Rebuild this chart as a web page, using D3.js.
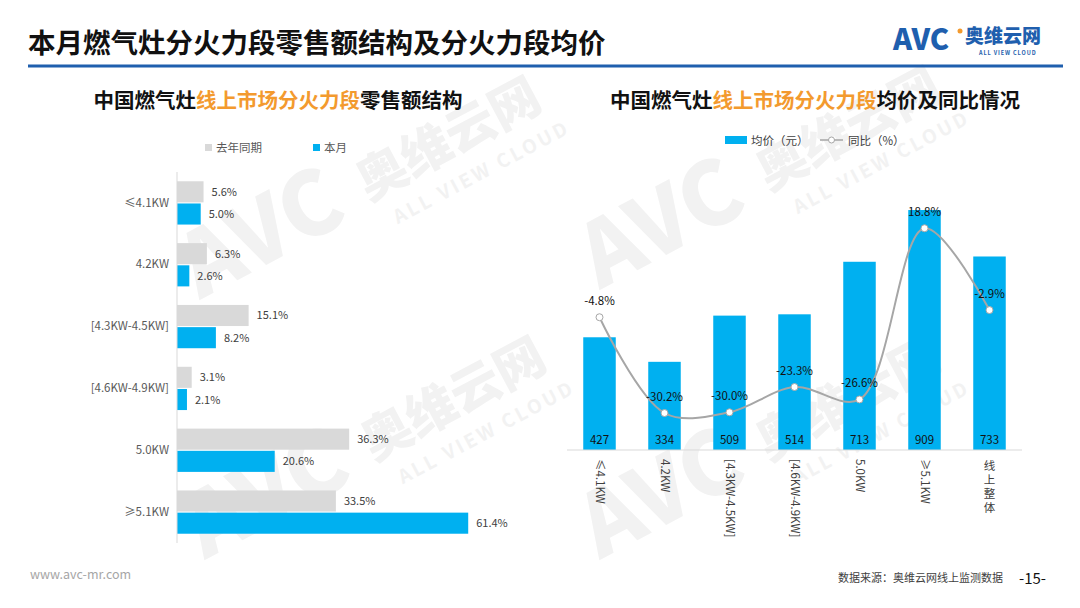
<!DOCTYPE html>
<html>
<head>
<meta charset="utf-8">
<script src="https://cdn.jsdelivr.net/npm/d3@7"></script>
<style>
  body { margin: 0; background: #fff; }
  svg text { font-family: "Noto Sans CJK SC", "Noto Sans", sans-serif; }
</style>
</head>
<body>
<div id="chart"></div>
<script>
// left chart: share of retail sales by burner power
var segs = ["≤4.1KW", "4.2KW", "[4.3KW-4.5KW]", "[4.6KW-4.9KW]", "5.0KW", "≥5.1KW"];
var lastYear = [5.6, 6.3, 15.1, 3.1, 36.3, 33.5];
var thisMonth = [5.0, 2.6, 8.2, 2.1, 20.6, 61.4];
var seriesNames = ["去年同期", "本月"];

// right chart: average price and yoy
var priceCats = ["≤4.1KW", "4.2KW", "[4.3KW-4.5KW]", "[4.6KW-4.9KW]", "5.0KW", "≥5.1KW", "线上整体"];
var avgPrice = [427, 334, 509, 514, 713, 909, 733];
var yoy = [-4.8, -30.2, -30.0, -23.3, -26.6, 18.8, -2.9];

var blue = "#00b0f0", grey = "#d9d9d9", orange = "#f39a2e";

var svg = d3.select("#chart").append("svg")
	.attr("width", 1080).attr("height", 608);

// faint watermarks
function watermark(x, y) {
	var g = svg.append("g").attr("transform", "translate(" + x + "," + y + ") rotate(-28)").attr("fill", "#f2f2f2");
	g.append("text").attr("x", 0).attr("y", 0).attr("font-size", 88).attr("font-weight", 900).attr("font-family", "Liberation Sans").text("AVC");
	g.append("text").attr("x", 195).attr("y", -8).attr("font-size", 50).attr("font-weight", 900).text("奥维云网");
	g.append("text").attr("x", 210).attr("y", 26).attr("font-size", 19).attr("font-weight", 700).attr("letter-spacing", 3).text("ALL VIEW CLOUD");
}
watermark(200, 300);
watermark(205, 560);
watermark(600, 290);
watermark(600, 560);

// header
svg.append("text").attr("x", 28).attr("y", 53)
	.attr("font-size", 27.5).attr("font-weight", 700).attr("fill", "#111")
	.text("本月燃气灶分火力段零售额结构及分火力段均价");
svg.append("rect").attr("x", 28).attr("y", 64.5).attr("width", 1035).attr("height", 3).attr("fill", "#1f5fae");

svg.append("text").attr("x", 893).attr("y", 50)
	.attr("font-size", 29).attr("font-weight", 900)
	.attr("fill", "#1f5fae").attr("font-family", "Liberation Sans").text("AVC");
svg.append("circle").attr("cx", 960).attr("cy", 31).attr("r", 2.5).attr("fill", orange);
svg.append("text").attr("x", 965).attr("y", 43)
	.attr("font-size", 19).attr("font-weight", 900).attr("fill", "#1f5fae").text("奥维云网");
svg.append("text").attr("x", 979).attr("y", 55)
	.attr("font-size", 5.5).attr("font-weight", 700).attr("letter-spacing", 0.9).attr("fill", "#1f5fae").text("ALL VIEW CLOUD");

// chart titles with orange middle part
function chartTitle(cx, parts) {
	var t = svg.append("text").attr("x", cx).attr("y", 108).attr("text-anchor", "middle")
		.attr("font-size", 20.5).attr("font-weight", 700);
	parts.forEach(function(p) { t.append("tspan").attr("fill", p[1]).text(p[0]); });
}
chartTitle(278, [["中国燃气灶", "#111"], ["线上市场分火力段", orange], ["零售额结构", "#111"]]);
chartTitle(815, [["中国燃气灶", "#111"], ["线上市场分火力段", orange], ["均价及同比情况", "#111"]]);

// ---------- left: horizontal grouped bars ----------
var y0 = d3.scaleBand().domain(segs).range([172, 543]).paddingInner(0.3).paddingOuter(0.15);
var y1 = d3.scaleBand().domain(seriesNames).range([0, y0.bandwidth()]).paddingInner(0.05);
var xL = d3.scaleLinear().domain([0, 70]).range([177, 509]);

var leftLegend = svg.append("g");
[[seriesNames[0], grey, 205], [seriesNames[1], blue, 313]].forEach(function(l) {
	leftLegend.append("rect").attr("x", l[2]).attr("y", 144).attr("width", 7).attr("height", 7).attr("fill", l[1]);
	leftLegend.append("text").attr("x", l[2] + 11).attr("y", 152).attr("font-size", 11.5).attr("fill", "#595959").text(l[0]);
});

var rows = segs.map(function(s, i) { return {seg: s, vals: [lastYear[i], thisMonth[i]]}; });
var grp = svg.selectAll(".grp").data(rows).enter().append("g")
	.attr("transform", function(d) { return "translate(0," + y0(d.seg) + ")"; });

grp.selectAll("rect").data(function(d) { return d.vals; }).enter().append("rect")
	.attr("x", xL(0))
	.attr("y", function(d, i) { return y1(seriesNames[i]); })
	.attr("width", function(d) { return xL(d) - xL(0); })
	.attr("height", y1.bandwidth())
	.attr("fill", function(d, i) { return i == 0 ? grey : blue; });

grp.selectAll(".val").data(function(d) { return d.vals; }).enter().append("text")
	.attr("x", function(d) { return xL(d) + 8; })
	.attr("y", function(d, i) { return y1(seriesNames[i]) + y1.bandwidth() / 2 + 4; })
	.attr("font-size", 11).attr("fill", "#404040")
	.text(function(d) { return d.toFixed(1) + "%"; });

var leftAxis = svg.append("g").attr("transform", "translate(" + xL(0) + ",0)")
	.call(d3.axisLeft(y0).tickSize(0).tickPadding(8));
leftAxis.select(".domain").attr("stroke", "#d9d9d9").attr("d", "M0,172V543");
leftAxis.selectAll("text").attr("font-size", 11.5).attr("fill", "#595959");

// ---------- right: bars + smooth yoy line ----------
var xR = d3.scaleBand().domain(priceCats).range([567, 1022]).paddingInner(0.5).paddingOuter(0.25);
var yBar = d3.scaleLinear().domain([0, 1000]).range([450, 186]);
var yPct = d3.scaleLinear().domain([-40, 30]).range([450, 186]);

var rightLegend = svg.append("g");
rightLegend.append("rect").attr("x", 725).attr("y", 136).attr("width", 22).attr("height", 8).attr("fill", blue);
rightLegend.append("text").attr("x", 751).attr("y", 145).attr("font-size", 11.5).attr("fill", "#404040").text("均价（元）");
rightLegend.append("line").attr("x1", 820).attr("x2", 843).attr("y1", 140).attr("y2", 140).attr("stroke", "#a6a6a6").attr("stroke-width", 1.5);
rightLegend.append("circle").attr("cx", 831.5).attr("cy", 140).attr("r", 3).attr("fill", "#fff").attr("stroke", "#a6a6a6");
rightLegend.append("text").attr("x", 848).attr("y", 145).attr("font-size", 11.5).attr("fill", "#404040").text("同比（%）");

var pdata = priceCats.map(function(c, i) { return {cat: c, price: avgPrice[i], yoy: yoy[i]}; });

svg.selectAll(".pbar").data(pdata).enter().append("rect")
	.attr("x", function(d) { return xR(d.cat); })
	.attr("y", function(d) { return yBar(d.price); })
	.attr("width", xR.bandwidth())
	.attr("height", function(d) { return yBar(0) - yBar(d.price); })
	.attr("fill", blue);

svg.selectAll(".plab").data(pdata).enter().append("text")
	.attr("x", function(d) { return xR(d.cat) + xR.bandwidth() / 2; })
	.attr("y", 444).attr("text-anchor", "middle")
	.attr("font-size", 11.5).attr("fill", "#111")
	.text(function(d) { return d.price; });

var bottomAxis = svg.append("g").attr("transform", "translate(0,450)")
	.call(d3.axisBottom(xR).tickSize(0).tickPadding(0));
bottomAxis.select(".domain").attr("stroke", "#d9d9d9").attr("d", "M567,0H1022");
// latin labels turned 90deg, chinese ones stacked upright
bottomAxis.selectAll(".tick text").each(function(d) {
	var t = d3.select(this).text("")
		.attr("font-size", 11.5).attr("fill", "#404040").attr("dy", 0);
	if (/[\u4e00-\u9fff]/.test(d)) {
		t.attr("text-anchor", "middle").attr("y", 20).attr("x", 0);
		d.split("").forEach(function(c, i) {
			t.append("tspan").attr("x", 0).attr("dy", i == 0 ? 0 : 14).text(c);
		});
	} else {
		t.attr("text-anchor", "start").attr("x", 0).attr("y", 0)
			.attr("transform", "translate(-4,9) rotate(90)").text(d);
	}
});

var line = d3.line()
	.x(function(d) { return xR(d.cat) + xR.bandwidth() / 2; })
	.y(function(d) { return yPct(d.yoy); })
	.curve(d3.curveCatmullRom.alpha(0.5));

svg.append("path").datum(pdata).attr("d", line)
	.attr("fill", "none").attr("stroke", "#a6a6a6").attr("stroke-width", 2);

svg.selectAll(".dot").data(pdata).enter().append("circle")
	.attr("cx", function(d) { return xR(d.cat) + xR.bandwidth() / 2; })
	.attr("cy", function(d) { return yPct(d.yoy); })
	.attr("r", 3.5).attr("fill", "#fff").attr("stroke", "#a6a6a6").attr("stroke-width", 1);

svg.selectAll(".ylab").data(pdata).enter().append("text")
	.attr("x", function(d) { return xR(d.cat) + xR.bandwidth() / 2; })
	.attr("y", function(d) { return yPct(d.yoy) - 12; })
	.attr("text-anchor", "middle")
	.attr("font-size", 11.5).attr("fill", "#111")
	.text(function(d) { return d.yoy.toFixed(1) + "%"; });

// footer
svg.append("text").attr("x", 30).attr("y", 579).attr("font-size", 12.5)
	.attr("font-family", "DejaVu Sans Mono").attr("fill", "#a6a6a6").text("www.avc-mr.com");
svg.append("text").attr("x", 838).attr("y", 582).attr("font-size", 11)
	.attr("fill", "#404040").text("数据来源：奥维云网线上监测数据");
svg.append("text").attr("x", 1019).attr("y", 584).attr("font-size", 15)
	.attr("fill", "#111").attr("font-family", "Liberation Sans").text("-15-");
</script>
</body>
</html>
